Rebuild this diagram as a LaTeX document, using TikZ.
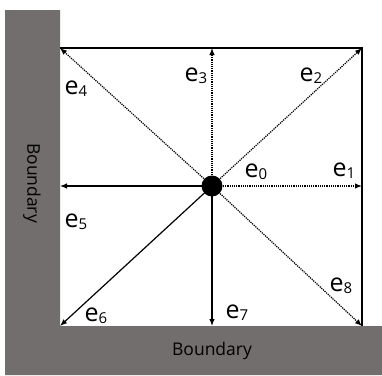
\documentclass[tikz,border=0pt]{standalone}
\usepackage{fontspec}
\setmainfont{Open Sans}
\usetikzlibrary{arrows.meta}
\definecolor{wallgray}{RGB}{114,110,110}
\newcommand{\evec}[1]{e\raisebox{-2pt}{\fontsize{15}{15}\selectfont #1}}
\begin{document}
\begin{tikzpicture}[x=1pt,y=-1pt,
  vec/.style={line width=1.2pt,-{Latex[length=7pt,width=5.5pt]}},
  dotvec/.style={vec,dash pattern=on 1.2pt off 1pt},
  border/.style={line width=2.8pt},
  lab/.style={font=\fontsize{25}{25}\selectfont,inner sep=0pt},
  wall/.style={font=\fontsize{17.5}{17.5}\selectfont,inner sep=0pt}]
\useasboundingbox (0,0) rectangle (382,375);
\fill[white] (0,0) rectangle (382,375);
% walls
\fill[wallgray] (5,10) -- (60,10) -- (60,326) -- (382,326) -- (382,375) -- (5,375) -- cycle;
\node[wall,rotate=-90] (bl) at (32,183) {Boundary};
\node[wall] (bb) at (212,351) {Boundary};
% corner coordinates
\coordinate (TL) at (60,48);
\coordinate (TM) at (212,48);
\coordinate (TR) at (362,48);
\coordinate (ML) at (60,186);
\coordinate (MR) at (362,186);
\coordinate (BL) at (60,326);
\coordinate (BM) at (212,326);
\coordinate (BR) at (362,326);
% borders
\draw[border] (TL) -- (TR) -- (BR);
% center
\node[circle,fill=black,minimum size=21pt,inner sep=0pt] (c) at (212,186) {};
% arrows
\draw[dotvec] (c.center) -- (MR);
\draw[dotvec] (c.center) -- (TR);
\draw[dotvec] (c.center) -- (TM);
\draw[dotvec] (c.center) -- (TL);
\draw[vec] (c.center) -- (ML);
\draw[vec] (c.center) -- (BL);
\draw[vec] (c.center) -- (BM);
\draw[dotvec] (c.center) -- (BR);
% labels
\node[lab] (e0) at (256,172) {\evec{0}};
\node[lab] (e1) at (344,171) {\evec{1}};
\node[lab] (e2) at (311,76) {\evec{2}};
\node[lab] (e3) at (196,76) {\evec{3}};
\node[lab] (e4) at (76,89) {\evec{4}};
\node[lab] (e5) at (76,222) {\evec{5}};
\node[lab] (e6) at (96,316) {\evec{6}};
\node[lab] (e7) at (237,313) {\evec{7}};
\node[lab] (e8) at (341,286) {\evec{8}};
\end{tikzpicture}
\end{document}
